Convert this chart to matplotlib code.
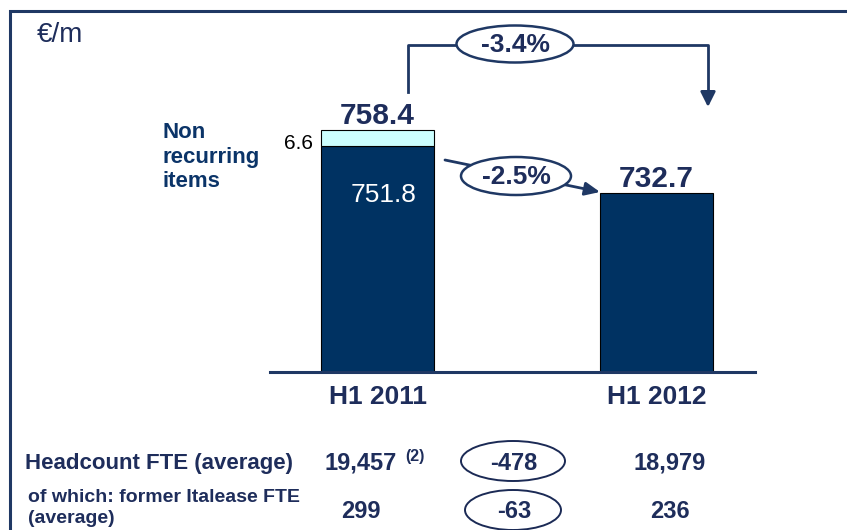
import numpy as np
import matplotlib
matplotlib.use("Agg")
import matplotlib.pyplot as plt
from matplotlib.patches import Ellipse

plt.rcParams['font.family'] = ['Liberation Sans', 'DejaVu Sans']

# data
periods = ["H1 2011", "H1 2012"]
recurring = [751.8, 732.7]
non_recurring = [6.6, 0.0]
totals = [758.4, 732.7]
change_total = "-3.4%"
change_recurring = "-2.5%"

row_labels = ["Headcount FTE (average)", "of which: former Italease FTE\n(average)"]
fte_2011 = ["19,457", "299"]
fte_delta = ["-478", "-63"]
fte_2012 = ["18,979", "236"]

navy = "#003262"
txt = "#1E2D5B"
frame = "#1F3864"
W, H = 847, 530

fig = plt.figure(figsize=(W / 100, H / 100), dpi=100)

# bar axes: spine at y=372px, from x=270 to 755px
ax = fig.add_axes([270 / W, (H - 372) / H, (755 - 270) / W, (372 - 11) / H])
x = np.arange(len(periods))
bw = 0.405
ax.bar(x, recurring, bw, color=navy, edgecolor="black", linewidth=0.8, zorder=2)
ax.bar(x[:1], non_recurring[:1], bw, bottom=recurring[:1], color="#CCFFFF",
       edgecolor="black", linewidth=0.8, zorder=2)
ax.set_xlim(-0.386, 1.353)
ax.set_ylim(659.5, 659.5 + 361 / 2.45)
for s in ["top", "right", "left"]:
    ax.spines[s].set_visible(False)
ax.spines["bottom"].set_color(frame)
ax.spines["bottom"].set_linewidth(2.2)
ax.set_yticks([])
ax.set_xticks(x)
ax.set_xticklabels(periods, fontsize=19, fontweight="bold", color=txt)
ax.tick_params(axis="x", length=0, pad=9.5)

for i, t in enumerate(totals):
    ax.text(x[i], t - 0.2, f"{t:.1f}", ha="center", va="bottom", fontsize=21.5,
            fontweight="bold", color=txt)
ax.text(x[0] + 0.02, recurring[0] - 20.2, f"{recurring[0]:.1f}", ha="center",
        va="center", fontsize=19, color="white")
ax.text(x[0] - bw / 2 - 0.03, recurring[0] + 1.0, f"{non_recurring[0]}",
        ha="right", va="center", fontsize=15, color="black")

# overlay in pixel coordinates
ov = fig.add_axes([0, 0, 1, 1], facecolor="none")
ov.set_xlim(0, W)
ov.set_ylim(H, 0)
ov.axis("off")

ov.plot([9.5, 9.5, W], [H, 11, 11], color=frame, lw=2.2, solid_joinstyle="miter")
ov.text(37, 35, "€/m", fontsize=20, color=txt, va="center", ha="left")
ov.text(162, 157, "Non\nrecurring\nitems", fontsize=16, fontweight="bold", color="#0B3468",
        va="center", ha="left", linespacing=1.2)

# -3.4% bracket
ov.plot([408, 408, 708, 708], [92, 45, 45, 94], color=frame, lw=2)
ov.annotate("", xy=(708, 107), xytext=(708, 92),
            arrowprops=dict(arrowstyle="-|>,head_length=0.9,head_width=0.45",
                            color=frame, lw=2, shrinkA=0, shrinkB=0))
ov.add_patch(Ellipse((515, 44), 117, 37, facecolor="white", edgecolor=frame, lw=1.8, zorder=3))
ov.text(515, 45, change_total, ha="center", va="center", fontsize=19, fontweight="bold",
        color=txt, zorder=4)

# -2.5% arrow
ov.annotate("", xy=(600, 192), xytext=(445, 160),
            arrowprops=dict(arrowstyle="-|>,head_length=0.9,head_width=0.4",
                            color=frame, lw=2, shrinkA=0, shrinkB=0))
ov.add_patch(Ellipse((516, 176), 110, 38, facecolor="white", edgecolor=frame, lw=1.8, zorder=3))
ov.text(516, 177, change_recurring, ha="center", va="center", fontsize=19, fontweight="bold",
        color=txt, zorder=4)

# headcount table
ov.text(25, 463, row_labels[0], fontsize=16, fontweight="bold", color=txt, va="center")
ov.text(28, 508, row_labels[1], fontsize=14, fontweight="bold", color=txt, va="center",
        linespacing=1.3)
rows_y = [463, 512]
ell_h = [40, 40]
ell_w = [104, 96]
for j, y in enumerate(rows_y):
    ov.text(361, y, fte_2011[j], fontsize=17, fontweight="bold", color=txt,
            ha="center", va="center")
    ov.add_patch(Ellipse((513, y - 2), ell_w[j], ell_h[j], facecolor="white",
                         edgecolor="#1B2A55", lw=1.4))
    ov.text(514, y, fte_delta[j], fontsize=17, fontweight="bold", color=txt,
            ha="center", va="center")
    ov.text(670, y, fte_2012[j], fontsize=17, fontweight="bold", color=txt,
            ha="center", va="center")
ov.text(405, 456, "(2)", fontsize=11.5, fontweight="bold", color=txt, va="center")

fig.savefig("out.png", dpi=100)
